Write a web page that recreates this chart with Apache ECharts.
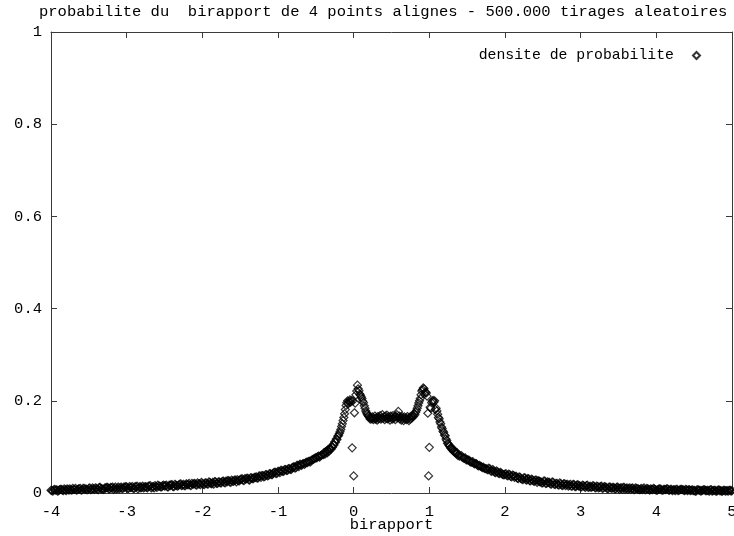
<!DOCTYPE html>
<html><head><meta charset="utf-8">
<script src="https://cdn.jsdelivr.net/npm/echarts@6/dist/echarts.min.js"></script>
<style>html,body{margin:0;padding:0;background:#fff}#c{width:734px;height:536px}</style>
</head><body><div id="c"></div>
<script>
const titleText = 'probabilite du  birapport de 4 points alignes - 500.000 tirages aleatoires';
const seriesName = 'densite de probabilite';
const xAxisName = 'birapport';
const xTicks = [-4, -3, -2, -1, 0, 1, 2, 3, 4, 5];
const yTicks = [0, 0.2, 0.4, 0.6, 0.8, 1];

// histogram bins: left tail (-4 .. -0.425, step 0.025)
const leftTailStart = -4.0, leftTailStep = 0.025;
const leftTail = [
0.006,0.004,0.008,0.007,0.005,0.008,0.006,0.009,0.005,0.008,
0.009,0.006,0.008,0.010,0.007,0.009,0.006,0.010,0.008,0.007,
0.010,0.007,0.011,0.008,0.010,0.007,0.012,0.009,0.008,0.011,
0.012,0.009,0.011,0.008,0.013,0.010,0.009,0.013,0.010,0.012,
0.013,0.010,0.012,0.014,0.010,0.013,0.009,0.014,0.012,0.011,
0.014,0.011,0.015,0.011,0.014,0.016,0.012,0.015,0.013,0.016,
0.015,0.017,0.013,0.016,0.018,0.014,0.017,0.015,0.019,0.016,
0.019,0.016,0.018,0.021,0.016,0.019,0.021,0.017,0.020,0.018,
0.021,0.018,0.022,0.019,0.023,0.020,0.019,0.024,0.021,0.024,
0.022,0.026,0.022,0.024,0.027,0.023,0.026,0.028,0.024,0.027,
0.029,0.031,0.027,0.030,0.032,0.028,0.033,0.031,0.034,0.032,
0.037,0.034,0.038,0.036,0.040,0.038,0.042,0.040,0.045,0.042,
0.047,0.044,0.049,0.047,0.051,0.049,0.053,0.051,0.056,0.054,
0.060,0.057,0.062,0.063,0.062,0.067,0.068,0.067,0.072,0.074,
0.077,0.079,0.078,0.082
];
// interleaved left-tail bins (-3.9875 .. -0.4375, step 0.025)
const leftTailBStart = -3.9875, leftTailBStep = 0.025;
const leftTailB = [
0.005,0.007,0.006,0.004,0.007,0.008,0.005,0.007,0.009,0.006,
0.007,0.010,0.008,0.006,0.009,0.010,0.007,0.010,0.009,0.007,
0.011,0.008,0.009,0.011,0.008,0.012,0.009,0.008,0.011,0.012,
0.009,0.012,0.013,0.010,0.009,0.013,0.011,0.010,0.013,0.014,
0.010,0.014,0.012,0.010,0.014,0.015,0.012,0.011,0.015,0.013,
0.012,0.015,0.016,0.013,0.011,0.014,0.017,0.015,0.013,0.017,
0.016,0.013,0.017,0.018,0.014,0.019,0.016,0.017,0.020,0.017,
0.016,0.020,0.018,0.017,0.021,0.020,0.018,0.022,0.020,0.023,
0.019,0.022,0.020,0.024,0.021,0.023,0.025,0.021,0.024,0.022,
0.025,0.023,0.026,0.027,0.024,0.028,0.025,0.028,0.029,0.026,
0.030,0.028,0.031,0.032,0.029,0.033,0.031,0.034,0.035,0.033,
0.037,0.038,0.035,0.040,0.037,0.042,0.040,0.043,0.045,0.043,
0.047,0.049,0.047,0.051,0.049,0.053,0.051,0.055,0.057,0.055,
0.060,0.062,0.060,0.064,0.065,0.066,0.069,0.070,0.073,0.075,
0.076,0.080,0.081
];

// centre (-0.40 .. 1.40, step 0.01)
const centreStart = -0.40, centreStep = 0.01;
const centre = [
0.083,0.088,0.084,0.089,0.091,0.087,0.094,0.090,0.095,0.097,
0.095,0.101,0.099,0.105,0.104,0.111,0.110,0.117,0.116,0.123,
0.125,0.129,0.133,0.138,0.144,0.150,0.157,0.164,0.172,0.181,
0.190,0.196,0.200,0.194,0.198,0.202,0.197,0.201,0.098,0.200,
0.037,0.174,0.195,0.213,0.221,0.234,0.226,0.222,0.215,0.212,
0.208,0.205,0.199,0.196,0.189,0.184,0.178,0.174,0.171,0.168,
0.166,0.163,0.160,0.164,0.161,0.165,0.159,0.162,0.167,0.160,
0.163,0.158,0.166,0.161,0.164,0.168,0.160,0.163,0.170,0.162,
0.165,0.159,0.167,0.162,0.169,0.161,0.166,0.163,0.158,0.167,
0.164,0.160,0.168,0.162,0.165,0.159,0.166,0.170,0.163,0.177,
0.167,0.161,0.164,0.158,0.166,0.162,0.157,0.165,0.160,0.163,
0.159,0.166,0.161,0.157,0.164,0.160,0.167,0.163,0.168,0.166,
0.172,0.170,0.175,0.179,0.184,0.189,0.195,0.200,0.205,0.213,
0.221,0.224,0.228,0.226,0.216,0.219,0.217,0.210,0.173,0.037,
0.099,0.186,0.184,0.196,0.199,0.201,0.197,0.200,0.181,0.184,
0.178,0.171,0.164,0.161,0.154,0.150,0.143,0.140,0.134,0.132,
0.126,0.124,0.117,0.114,0.108,0.107,0.103,0.102,0.098,0.097,
0.094,0.096,0.090,0.092,0.088,0.087,0.085,0.087,0.081,0.083,
0.080
];

// right tail (1.425 .. 5.0, step 0.025)
const rightTailStart = 1.425, rightTailStep = 0.025;
const rightTail = [
0.081,0.076,0.076,0.072,0.071,0.067,0.068,0.063,0.063,0.059,
0.058,0.055,0.054,0.053,0.050,0.052,0.047,0.048,0.044,0.046,
0.042,0.043,0.040,0.041,0.038,0.041,0.036,0.039,0.034,0.036,
0.031,0.034,0.030,0.033,0.029,0.031,0.027,0.030,0.026,0.028,
0.023,0.026,0.024,0.022,0.026,0.021,0.023,0.020,0.024,0.019,
0.021,0.018,0.022,0.017,0.020,0.016,0.019,0.017,0.015,0.019,
0.014,0.017,0.015,0.013,0.017,0.014,0.016,0.012,0.015,0.013,
0.015,0.011,0.014,0.012,0.015,0.011,0.013,0.010,0.013,0.011,
0.012,0.009,0.012,0.010,0.011,0.008,0.012,0.010,0.008,0.011,
0.010,0.008,0.011,0.009,0.007,0.010,0.009,0.007,0.010,0.008,
0.009,0.007,0.009,0.006,0.008,0.009,0.006,0.008,0.007,0.009,
0.006,0.008,0.007,0.005,0.008,0.006,0.008,0.007,0.005,0.007,
0.007,0.005,0.007,0.006,0.004,0.007,0.006,0.005,0.007,0.005,
0.006,0.004,0.007,0.005,0.006,0.004,0.007,0.005,0.004,0.006,
0.005,0.004,0.006,0.005
];
// interleaved right-tail bins (1.4375 .. 4.9875, step 0.025)
const rightTailBStart = 1.4375, rightTailBStep = 0.025;
const rightTailB = [
0.077,0.075,0.072,0.072,0.068,0.067,0.064,0.064,0.060,0.060,
0.057,0.056,0.053,0.052,0.054,0.048,0.051,0.045,0.048,0.043,
0.045,0.041,0.039,0.042,0.037,0.040,0.035,0.038,0.036,0.032,
0.035,0.031,0.029,0.033,0.028,0.031,0.026,0.029,0.025,0.028,
0.027,0.024,0.022,0.026,0.021,0.024,0.023,0.019,0.023,0.018,
0.021,0.017,0.020,0.016,0.020,0.018,0.015,0.019,0.015,0.018,
0.014,0.018,0.016,0.013,0.016,0.012,0.017,0.013,0.012,0.016,
0.012,0.015,0.011,0.014,0.010,0.014,0.012,0.009,0.013,0.010,
0.012,0.009,0.013,0.008,0.011,0.012,0.008,0.011,0.010,0.008,
0.011,0.007,0.010,0.009,0.008,0.007,0.011,0.007,0.009,0.006,
0.008,0.010,0.007,0.006,0.009,0.008,0.006,0.008,0.009,0.006,
0.008,0.005,0.007,0.008,0.005,0.007,0.008,0.006,0.008,0.005,
0.007,0.006,0.005,0.004,0.007,0.006,0.004,0.006,0.007,0.005,
0.005,0.007,0.004,0.006,0.004,0.006,0.005,0.004,0.006,0.004,
0.005,0.006,0.004
];

function bins(start, step, vals) {
  return vals.map((v, i) => [Math.round((start + i * step) * 10000) / 10000, v]);
}
const data = [].concat(
  bins(leftTailStart, leftTailStep, leftTail),
  bins(leftTailBStart, leftTailBStep, leftTailB),
  bins(centreStart, centreStep, centre),
  bins(rightTailStart, rightTailStep, rightTail),
  bins(rightTailBStart, rightTailBStep, rightTailB)
);

const FONT = "'Liberation Mono', 'DejaVu Sans Mono', monospace";
const FS = 15.5;
const axisColor = '#3a3a3a';
const chart = echarts.init(document.getElementById('c'), null, {renderer: 'canvas'});

function xAxisCfg(pos, labels) {
  return {
    type: 'value', position: pos,
    min: xTicks[0], max: xTicks[xTicks.length - 1], interval: xTicks[1] - xTicks[0],
    axisLine: {show: true, onZero: false, lineStyle: {color: axisColor, width: 1}},
    axisTick: {show: true, inside: true, length: 6, lineStyle: {color: axisColor}},
    axisLabel: {show: labels, margin: 11, color: '#000', fontFamily: FONT, fontSize: FS},
    splitLine: {show: false},
    name: labels ? xAxisName : '', nameLocation: 'middle', nameGap: 24,
    nameMoveOverlap: false,
    nameTextStyle: {color: '#000', fontFamily: FONT, fontSize: FS}
  };
}
function yAxisCfg(pos, labels) {
  return {
    type: 'value', position: pos,
    min: yTicks[0], max: yTicks[yTicks.length - 1], interval: yTicks[1] - yTicks[0],
    axisLine: {show: true, onZero: false, lineStyle: {color: axisColor, width: 1}},
    axisTick: {show: true, inside: true, length: 6, lineStyle: {color: axisColor}},
    axisLabel: {show: labels, margin: 9, color: '#000', fontFamily: FONT, fontSize: FS},
    splitLine: {show: false}
  };
}

chart.setOption({
  animation: false,
  backgroundColor: '#fff',
  title: {
    text: titleText, left: 39, top: 4, padding: 0,
    textStyle: {color: '#000', fontFamily: FONT, fontSize: FS, fontWeight: 'normal'}
  },
  legend: {
    data: [seriesName], right: 33, top: 48, align: 'right', padding: 0,
    itemWidth: 7, itemHeight: 7,
    textStyle: {color: '#000', fontFamily: FONT, fontSize: 14.8, padding: [0, 14, 0, 0]}
  },
  grid: {left: 51, right: 2, top: 32, bottom: 43, containLabel: false, outerBoundsMode: 'none'},
  xAxis: [xAxisCfg('bottom', true), xAxisCfg('top', false)],
  yAxis: [yAxisCfg('left', true), yAxisCfg('right', false)],
  series: [{
    name: seriesName, type: 'scatter', symbol: 'diamond', symbolSize: 8,
    xAxisIndex: 0, yAxisIndex: 0,
    itemStyle: {color: 'rgba(255,255,255,0)', borderColor: '#000', borderWidth: 1.2},
    data: data
  }]
});
</script></body></html>
